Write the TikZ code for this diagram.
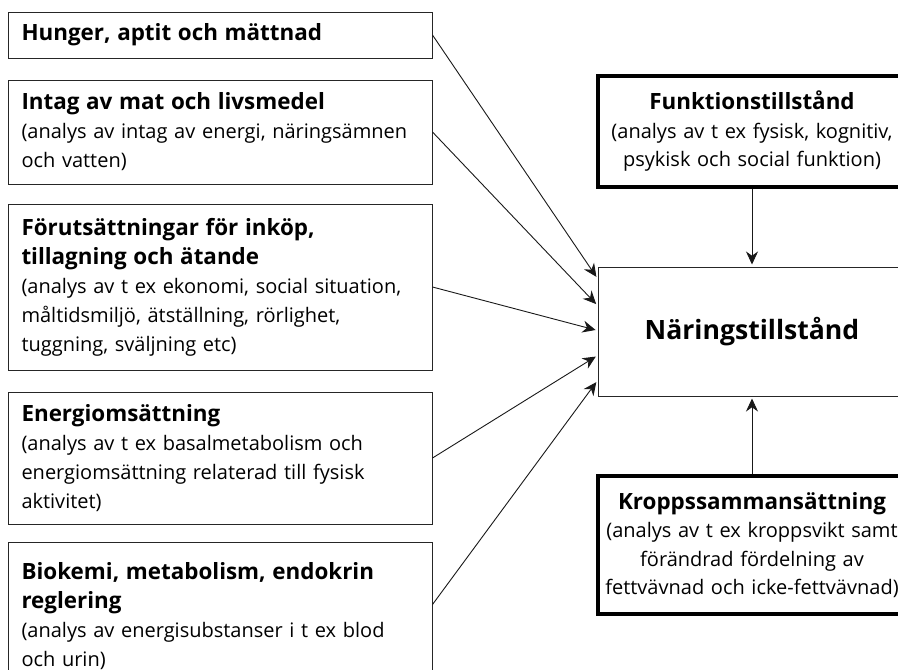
\documentclass[tikz,border=0pt]{standalone}
\usepackage{fontspec}
\setmainfont{Open Sans}
\usetikzlibrary{arrows.meta}
\newcommand\hd[1]{{\fontsize{22.4}{29}\selectfont\bfseries #1}}
\begin{document}
\begin{tikzpicture}[x=1pt,y=-1pt,
  lbox/.style={draw=black!85,line width=1pt,rectangle,inner xsep=13pt,inner ysep=0pt,
    minimum width=424pt,text width=397pt,align=left,font=\fontsize{20}{29}\selectfont},
  rbox/.style={draw=black,line width=4.3pt,rectangle,inner sep=0pt,
    minimum width=308pt,text width=304pt,align=center,font=\fontsize{20}{28.5}\selectfont},
  nbox/.style={draw=black!85,line width=1pt,rectangle,inner sep=0pt,
    minimum width=308pt,align=center,font=\fontsize{26.6}{30}\selectfont\bfseries},
  conn/.style={draw=black!90,line width=0.9pt,-{Stealth[length=13pt,width=12pt]},shorten >=2pt}]
\useasboundingbox (0,0) rectangle (898,670);
\fill[white] (0,0) rectangle (898,670);
\clip (0,0) rectangle (898,670);

\node[lbox,minimum height=46pt] (b1) at (220,35) {\hd{Hunger, aptit och mättnad}};
\node[lbox,minimum height=104pt] (b2) at (220,132) {\hd{Intag av mat och livsmedel}\\(analys av intag av energi, näringsämnen\\och vatten)};
\node[lbox,minimum height=166pt] (b3) at (220,287) {\hd{Förutsättningar för inköp,}\\\hd{tillagning och ätande}\\(analys av t ex ekonomi, social situation,\\måltidsmiljö, ätställning, rörlighet,\\tuggning, sväljning etc)};
\node[lbox,minimum height=132pt] (b4) at (220,458) {\hd{Energiomsättning}\\(analys av t ex basalmetabolism och\\energiomsättning relaterad till fysisk\\aktivitet)};
\node[lbox,minimum height=148pt] (b5) at (220,616) {\hd{Biokemi, metabolism, endokrin}\\\hd{reglering}\\(analys av energisubstanser i t ex blod\\och urin)};

\node[rbox,minimum height=111pt] (f) at (752,131.5) {\hd{Funktionstillstånd}\\(analys av t ex fysisk, kognitiv,\\psykisk och social funktion)};
\node[nbox,minimum height=129pt] (n) at (752,331.5) {Näringstillstånd};
\node[rbox,minimum height=138pt] (k) at (752,545) {\hd{Kroppssammansättning}\\(analys av t ex kroppsvikt samt\\förändrad fördelning av\\fettvävnad och icke-fettvävnad)};

\draw[conn] (f.south) -- (n.north);
\draw[conn] (k.north) -- (n.south);
\draw[conn] (b1.east) -- ([yshift=53pt]n.west);
\draw[conn] (b2.east) -- ([yshift=26pt]n.west);
\draw[conn] (b3.east) -- ([yshift=1pt]n.west);
\draw[conn] (b4.east) -- ([yshift=-24pt]n.west);
\draw[conn] ([yshift=-63pt]b5.north east) -- ([yshift=-49pt]n.west);
\end{tikzpicture}
\end{document}
